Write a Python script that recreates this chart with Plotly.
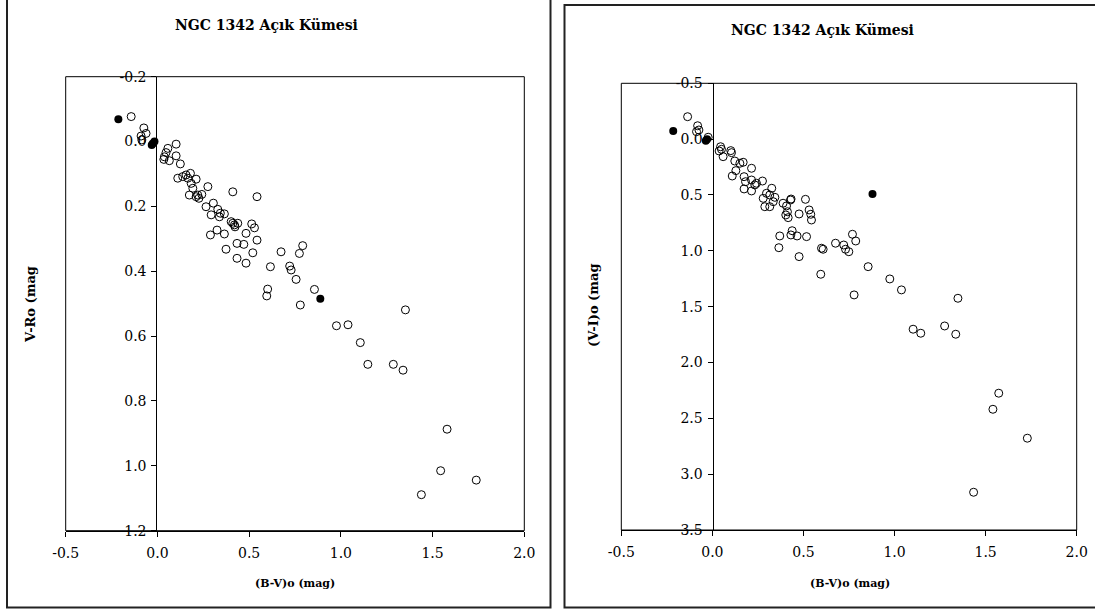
import plotly.graph_objects as go

# ---------------- Left panel: (B-V)o vs (V-R)o ----------------
bv_left_open = [-0.143, -0.074, -0.062, -0.089, -0.085, 0.102, 0.057, 0.047, 0.038, 0.035,
                0.065, 0.102, 0.125, 0.111, 0.138, 0.156, 0.180, 0.166, 0.211, 0.184,
                0.193, 0.275, 0.174, 0.211, 0.220, 0.242, 0.226, 0.411, 0.543, 0.265,
                0.305, 0.293, 0.329, 0.343, 0.365, 0.338, 0.402, 0.411, 0.420, 0.438,
                0.423, 0.514, 0.529, 0.483, 0.543, 0.289, 0.325, 0.365, 0.434, 0.471,
                0.374, 0.434, 0.483, 0.520, 0.674, 0.792, 0.774, 0.616, 0.721, 0.729,
                0.756, 0.601, 0.596, 0.856, 0.779, 1.352, 0.976, 1.039, 1.106, 1.147,
                1.286, 1.339, 1.579, 1.544, 1.738, 1.439]
vr_open = [-0.077, -0.042, -0.025, -0.017, -0.005, 0.008, 0.021, 0.034, 0.047, 0.055,
           0.059, 0.044, 0.069, 0.113, 0.108, 0.103, 0.098, 0.113, 0.116, 0.129,
           0.144, 0.139, 0.165, 0.170, 0.165, 0.163, 0.175, 0.155, 0.170, 0.201,
           0.190, 0.226, 0.209, 0.221, 0.223, 0.232, 0.247, 0.252, 0.257, 0.252,
           0.263, 0.254, 0.266, 0.283, 0.304, 0.288, 0.273, 0.285, 0.314, 0.317,
           0.332, 0.360, 0.375, 0.343, 0.340, 0.321, 0.345, 0.386, 0.384, 0.396,
           0.425, 0.455, 0.476, 0.456, 0.504, 0.519, 0.568, 0.565, 0.620, 0.687,
           0.687, 0.705, 0.887, 1.015, 1.044, 1.089]
bv_left_fill = [-0.213, -0.031, -0.016, -0.025, 0.888]
vr_fill = [-0.069, 0.011, 0.000, 0.006, 0.485]

# ---------------- Right panel: (B-V)o vs (V-I)o ----------------
bv_right_open = [-0.136, -0.081, -0.074, -0.087, -0.023, 0.045, 0.050, 0.037, 0.059, 0.101,
                 0.105, 0.123, 0.151, 0.169, 0.129, 0.109, 0.215, 0.174, 0.182, 0.174,
                 0.215, 0.215, 0.242, 0.275, 0.233, 0.326, 0.297, 0.279, 0.315, 0.343,
                 0.288, 0.315, 0.334, 0.388, 0.407, 0.429, 0.432, 0.403, 0.416, 0.412,
                 0.476, 0.511, 0.531, 0.540, 0.544, 0.370, 0.365, 0.438, 0.431, 0.465,
                 0.517, 0.476, 0.599, 0.608, 0.595, 0.676, 0.721, 0.731, 0.749, 0.769,
                 0.787, 0.855, 0.778, 0.974, 1.038, 1.348, 1.102, 1.144, 1.275, 1.336,
                 1.572, 1.540, 1.729, 1.434]
vi_open = [-0.201, -0.120, -0.082, -0.067, -0.017, 0.068, 0.091, 0.106, 0.157, 0.103,
           0.121, 0.196, 0.216, 0.207, 0.282, 0.330, 0.261, 0.336, 0.381, 0.446,
           0.366, 0.464, 0.395, 0.375, 0.410, 0.440, 0.485, 0.530, 0.500, 0.521,
           0.605, 0.605, 0.560, 0.574, 0.598, 0.545, 0.536, 0.679, 0.703, 0.650,
           0.670, 0.539, 0.634, 0.673, 0.724, 0.867, 0.972, 0.820, 0.858, 0.867,
           0.873, 1.052, 0.977, 0.986, 1.210, 0.932, 0.948, 0.986, 1.008, 0.852,
           0.912, 1.142, 1.395, 1.252, 1.350, 1.425, 1.702, 1.738, 1.673, 1.747,
           2.275, 2.419, 2.678, 3.162]
bv_right_fill = [-0.215, -0.036, -0.029, 0.879]
vi_fill = [-0.073, 0.014, 0.001, 0.491]

# ---------------- Ticks and texts ----------------
x_ticks = [-0.5, 0.0, 0.5, 1.0, 1.5, 2.0]
x_tick_labels = ["-0.5", "0.0", "0.5", "1.0", "1.5", "2.0"]
y_left_ticks = [-0.2, 0.0, 0.2, 0.4, 0.6, 0.8, 1.0, 1.2]
y_left_labels = ["-0.2", "0.0", "0.2", "0.4", "0.6", "0.8", "1.0", "1.2"]
y_right_ticks = [-0.5, 0.0, 0.5, 1.0, 1.5, 2.0, 2.5, 3.0, 3.5]
y_right_labels = ["-0.5", "0.0", "0.5", "1.0", "1.5", "2.0", "2.5", "3.0", "3.5"]

title_text = "NGC 1342 Açık Kümesi"
x_title = "(B-V)o (mag)"
y_title_left = "V-Ro (mag"
y_title_right = "(V-I)o (mag"

W, H = 1095, 610
FONT = "DejaVu Serif"


def px(x):
    return x / W


def py(y):
    return 1 - y / H


fig = go.Figure()

open_marker = dict(symbol="circle-open", size=8, color="black", line=dict(width=1, color="black"))
fill_marker = dict(symbol="circle", size=8, color="black", line=dict(width=0))

fig.add_trace(go.Scatter(x=bv_left_open, y=vr_open, mode="markers", marker=open_marker,
                         xaxis="x", yaxis="y", showlegend=False, cliponaxis=False))
fig.add_trace(go.Scatter(x=bv_left_fill, y=vr_fill, mode="markers", marker=fill_marker,
                         xaxis="x", yaxis="y", showlegend=False, cliponaxis=False))
fig.add_trace(go.Scatter(x=bv_right_open, y=vi_open, mode="markers", marker=open_marker,
                         xaxis="x2", yaxis="y2", showlegend=False, cliponaxis=False))
fig.add_trace(go.Scatter(x=bv_right_fill, y=vi_fill, mode="markers", marker=fill_marker,
                         xaxis="x2", yaxis="y2", showlegend=False, cliponaxis=False))

tickfont = dict(family=FONT, size=14, color="black")

# domains
L_x = [px(65.7), px(524.3)]
L_y = [py(530.7), py(76.7)]
R_x = [px(621.3), px(1076.7)]
R_y = [py(530.0), py(83.3)]

xcommon = dict(range=[-0.5, 2.0], tickmode="array", tickvals=x_ticks, ticktext=x_tick_labels,
               showgrid=False, zeroline=False, showline=True, linecolor="black", linewidth=1,
               ticks="outside", ticklen=5, tickcolor="black", tickfont=tickfont,
               ticklabelstandoff=4, automargin=False)
ycommon = dict(showgrid=False, zeroline=False, showline=True, linecolor="black", linewidth=1,
               ticks="outside", ticklen=5, tickcolor="black", tickfont=tickfont,
               tickmode="array", anchor="free", ticklabelstandoff=2, automargin=False)

fig.update_layout(
    width=W, height=H,
    margin=dict(l=0, r=0, t=0, b=0, pad=0, autoexpand=False),
    paper_bgcolor="white", plot_bgcolor="white",
    xaxis=dict(domain=L_x, anchor="y", **xcommon),
    yaxis=dict(domain=L_y, range=[1.2, -0.2], tickvals=y_left_ticks, ticktext=y_left_labels,
               position=px(156.3), **ycommon),
    xaxis2=dict(domain=R_x, anchor="y2", **xcommon),
    yaxis2=dict(domain=R_y, range=[3.5, -0.5], tickvals=y_right_ticks, ticktext=y_right_labels,
                position=px(712.5), **ycommon),
)

shapes = []
# plot area boxes
for xr, yr in (("x", "y"), ("x2", "y2")):
    shapes.append(dict(type="rect", xref=f"{xr} domain", yref=f"{yr} domain",
                       x0=0, x1=1, y0=0, y1=1, line=dict(color="black", width=1),
                       fillcolor="rgba(0,0,0,0)", layer="above"))
# outer chart borders
shapes.append(dict(type="rect", xref="paper", yref="paper",
                   x0=px(7), x1=px(550.5), y0=py(607.5), y1=py(-3),
                   line=dict(color="#222222", width=2)))
shapes.append(dict(type="rect", xref="paper", yref="paper",
                   x0=px(564.5), x1=px(1099), y0=py(607.5), y1=py(5),
                   line=dict(color="#222222", width=2)))
fig.update_layout(shapes=shapes)

ann = []
tfont = dict(family=FONT, size=14, color="black")
afont = dict(family=FONT, size=11, color="black")
yfont = dict(family=FONT, size=13, color="black")
ann.append(dict(text=f"<b>{title_text}</b>", x=px(266), y=py(25), xref="paper", yref="paper",
                showarrow=False, font=tfont, xanchor="center", yanchor="middle"))
ann.append(dict(text=f"<b>{title_text}</b>", x=px(823), y=py(30), xref="paper", yref="paper",
                showarrow=False, font=tfont, xanchor="center", yanchor="middle"))
ann.append(dict(text=f"<b>{x_title}</b>", x=px(295), y=py(583), xref="paper", yref="paper",
                showarrow=False, font=afont, xanchor="center", yanchor="middle"))
ann.append(dict(text=f"<b>{x_title}</b>", x=px(850), y=py(583), xref="paper", yref="paper",
                showarrow=False, font=afont, xanchor="center", yanchor="middle"))
ann.append(dict(text=f"<b>{y_title_left}</b>", x=px(30), y=py(305), xref="paper", yref="paper",
                showarrow=False, textangle=-90, font=yfont, xanchor="center", yanchor="middle"))
ann.append(dict(text=f"<b>{y_title_right}</b>", x=px(593), y=py(305), xref="paper", yref="paper",
                showarrow=False, textangle=-90, font=yfont, xanchor="center", yanchor="middle"))
fig.update_layout(annotations=ann)

fig.write_html("out.html", config={"displayModeBar": False},
               post_script="document.body.style.margin='0';document.body.style.padding='0';"
                           "document.body.style.overflow='hidden';")
